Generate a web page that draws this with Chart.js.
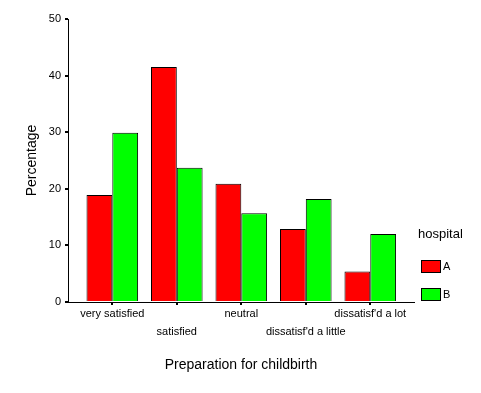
<!DOCTYPE html>
<html>
<head>
<meta charset="utf-8">
<title>Preparation for childbirth</title>
<script src="https://cdn.jsdelivr.net/npm/chart.js@4/dist/chart.umd.min.js"></script>
<style>
  html, body { margin: 0; padding: 0; background: #fff; }
  canvas { display: block; }
</style>
</head>
<body>
<canvas id="chart" width="481" height="393"></canvas>
<script>
// data
const categories = ['very satisfied', 'satisfied', 'neutral', "dissatisf'd a little", "dissatisf'd a lot"];
const hospitals = ['A', 'B'];
const valuesA = [18.9, 41.5, 20.9, 12.9, 5.4];
const valuesB = [29.9, 23.7, 15.7, 18.2, 12.0];
const yTicks = [0, 10, 20, 30, 40, 50];

const FONT = '"Liberation Sans", Arial, sans-serif';

// legend drawn by hand so it sits where the SPSS one does
const hospitalLegend = {
  id: 'hospitalLegend',
  afterDraw(chart) {
    const ctx = chart.ctx;
    ctx.save();
    ctx.fillStyle = '#000';
    ctx.textBaseline = 'middle';
    ctx.textAlign = 'left';
    ctx.font = '13px ' + FONT;
    ctx.fillText('hospital', 418, 234);
    ctx.font = '11px ' + FONT;
    chart.data.datasets.forEach((ds, i) => {
      const y = 260 + i * 28;
      ctx.fillStyle = ds.backgroundColor;
      ctx.fillRect(421.5, y + 0.5, 19, 12);
      ctx.strokeStyle = '#000';
      ctx.lineWidth = 1;
      ctx.strokeRect(421.5, y + 0.5, 19, 12);
      ctx.fillStyle = '#000';
      ctx.fillText(ds.label, 443, y + 7);
    });
    ctx.restore();
  }
};

new Chart(document.getElementById('chart'), {
  type: 'bar',
  data: {
    datasets: [
      {
        label: hospitals[0],
        data: valuesA.map((v, i) => ({ x: i, y: v })),
        backgroundColor: '#ff0000',
        borderColor: '#000',
        borderWidth: 1
      },
      {
        label: hospitals[1],
        data: valuesB.map((v, i) => ({ x: i, y: v })),
        backgroundColor: '#00ff00',
        borderColor: '#000',
        borderWidth: 1
      }
    ]
  },
  options: {
    responsive: false,
    animation: false,
    devicePixelRatio: 1,
    categoryPercentage: 0.8,
    barPercentage: 1,
    layout: { padding: { top: 19, right: 67, bottom: 0, left: 0 } },
    plugins: {
      legend: { display: false },
      tooltip: { enabled: false }
    },
    scales: {
      x: {
        type: 'linear',
        min: -0.687,
        max: 4.678,
        offset: false,
        grid: { offset: false, drawOnChartArea: false, drawTicks: true, tickLength: 3, color: '#000', lineWidth: 2 },
        border: { display: true, color: '#000', width: 1 },
        ticks: {
          stepSize: 1,
          includeBounds: false,
          autoSkip: false,
          maxRotation: 0,
          padding: 0,
          color: '#000',
          font: { family: FONT, size: 11, lineHeight: 18 / 11 },
          callback: (v) => {
            const label = categories[v];
            if (label === undefined) return '';
            return v % 2 === 0 ? [label] : ['', label];
          }
        },
        title: {
          display: true,
          text: 'Preparation for childbirth',
          color: '#000',
          font: { family: FONT, size: 14 },
          padding: { top: 0, bottom: 19.6 }
        },
        afterFit: (scale) => { scale.height = 393 - 302; }
      },
      y: {
        min: yTicks[0],
        max: yTicks[yTicks.length - 1],
        grid: { drawOnChartArea: false, drawTicks: true, tickLength: 3, color: '#000', lineWidth: 2 },
        border: { display: true, color: '#000', width: 1 },
        ticks: {
          stepSize: 10,
          padding: 4,
          color: '#000',
          font: { family: FONT, size: 11 }
        },
        title: {
          display: true,
          text: 'Percentage',
          color: '#000',
          font: { family: FONT, size: 14 },
          padding: { top: 23.6, bottom: 0 }
        },
        afterFit: (scale) => { scale.width = 68; }
      }
    }
  },
  plugins: [hospitalLegend]
});
</script>
</body>
</html>
